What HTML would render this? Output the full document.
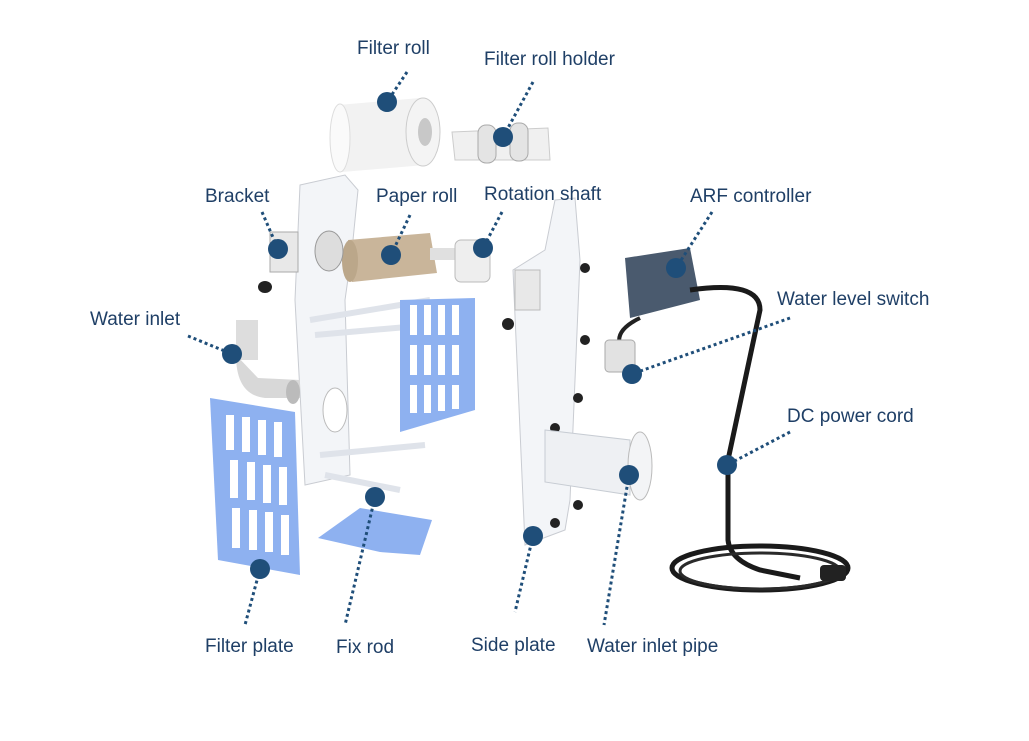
<!DOCTYPE html>
<html><head><meta charset="utf-8"><style>
html,body{margin:0;padding:0;background:#fff;}
svg{display:block;}
text{font-family:"Liberation Sans",sans-serif;font-size:19px;fill:#1f3f66;}
</style></head><body>
<svg width="1029" height="741" viewBox="0 0 1029 741" xmlns="http://www.w3.org/2000/svg">
<!-- filter roll -->
<path d="M338 105 L420 98 L425 165 L342 172 Z" fill="#f2f2f2"/>
<ellipse cx="340" cy="138" rx="10" ry="34" fill="#fafafa" stroke="#ddd"/>
<ellipse cx="423" cy="132" rx="17" ry="34" fill="#f4f4f4" stroke="#ccc"/>
<ellipse cx="425" cy="132" rx="7" ry="14" fill="#c8c8c8"/>
<!-- filter roll holder -->
<path d="M452 132 L548 128 L550 160 L455 160 Z" fill="#f0f0f0" stroke="#ccc"/>
<rect x="478" y="125" width="18" height="38" rx="8" fill="#e4e4e4" stroke="#aaa"/>
<rect x="510" y="123" width="18" height="38" rx="8" fill="#e4e4e4" stroke="#aaa"/>
<!-- left clear plate -->
<path d="M300 185 L345 175 L358 190 L352 250 L345 300 L350 475 L305 485 L295 300 Z" fill="#f3f5f8" stroke="#c9ccd2"/>
<line x1="310" y1="320" x2="430" y2="300" stroke="#dfe3ea" stroke-width="6"/>
<line x1="315" y1="335" x2="430" y2="325" stroke="#dfe3ea" stroke-width="6"/>
<line x1="320" y1="455" x2="425" y2="445" stroke="#dfe3ea" stroke-width="6"/>
<line x1="325" y1="475" x2="400" y2="490" stroke="#dfe3ea" stroke-width="6"/>
<ellipse cx="335" cy="410" rx="12" ry="22" fill="#fff" stroke="#bbb"/>
<!-- bracket -->
<rect x="270" y="232" width="28" height="40" fill="#e8e8e8" stroke="#aaa"/>
<ellipse cx="265" cy="287" rx="7" ry="6" fill="#222"/>
<!-- paper roll -->
<path d="M348 240 L430 233 L437 273 L352 282 Z" fill="#c9b59a"/>
<ellipse cx="350" cy="261" rx="8" ry="21" fill="#bba78a"/>
<ellipse cx="329" cy="251" rx="14" ry="20" fill="#ddd" stroke="#999"/>
<rect x="430" y="248" width="40" height="12" fill="#e0e0e0"/>
<rect x="455" y="240" width="35" height="42" rx="6" fill="#eee" stroke="#bbb"/>
<!-- right blue plate -->
<path d="M400 300 L475 298 L475 410 L400 432 Z" fill="#8eb1f0"/>
<g fill="#fff">
<rect x="410" y="305" width="7" height="30"/><rect x="424" y="305" width="7" height="30"/><rect x="438" y="305" width="7" height="30"/><rect x="452" y="305" width="7" height="30"/>
<rect x="410" y="345" width="7" height="30"/><rect x="424" y="345" width="7" height="30"/><rect x="438" y="345" width="7" height="30"/><rect x="452" y="345" width="7" height="30"/>
<rect x="410" y="385" width="7" height="28"/><rect x="424" y="385" width="7" height="28"/><rect x="438" y="385" width="7" height="26"/><rect x="452" y="385" width="7" height="24"/>
</g>
<!-- water inlet elbow -->
<rect x="236" y="320" width="22" height="40" fill="#ddd"/>
<path d="M236 355 Q236 395 265 398 L300 398 L300 380 L258 378 Z" fill="#d8d8d8"/>
<ellipse cx="293" cy="392" rx="7" ry="12" fill="#bbb"/>
<!-- left blue filter plate -->
<path d="M210 398 L295 412 L300 575 L218 560 Z" fill="#8eb1f0"/>
<g fill="#fff">
<rect x="226" y="415" width="8" height="35"/><rect x="242" y="417" width="8" height="35"/><rect x="258" y="420" width="8" height="35"/><rect x="274" y="422" width="8" height="35"/>
<rect x="230" y="460" width="8" height="38"/><rect x="247" y="462" width="8" height="38"/><rect x="263" y="465" width="8" height="38"/><rect x="279" y="467" width="8" height="38"/>
<rect x="232" y="508" width="8" height="40"/><rect x="249" y="510" width="8" height="40"/><rect x="265" y="512" width="8" height="40"/><rect x="281" y="515" width="8" height="40"/>
</g>
<!-- bottom blue plate -->
<path d="M318 538 L360 508 L432 520 L420 555 L380 552 Z" fill="#8eb1f0"/>
<!-- side plate -->
<path d="M555 200 L575 198 L580 260 L570 500 L565 530 L525 545 L520 430 L513 270 L545 250 Z" fill="#f3f5f8" stroke="#c9ccd2"/>
<rect x="515" y="270" width="25" height="40" fill="#e8e8e8" stroke="#bbb"/>
<g fill="#222"><circle cx="585" cy="268" r="5"/><circle cx="508" cy="324" r="6"/><circle cx="585" cy="340" r="5"/><circle cx="578" cy="398" r="5"/><circle cx="555" cy="428" r="5"/><circle cx="578" cy="505" r="5"/><circle cx="555" cy="523" r="5"/></g>
<!-- water inlet pipe -->
<path d="M545 430 L630 440 L630 495 L545 482 Z" fill="#eef0f3" stroke="#c7ccd3"/>
<ellipse cx="640" cy="466" rx="12" ry="34" fill="#f3f4f6" stroke="#bbb"/>
<!-- ARF controller -->
<path d="M625 258 L690 248 L700 300 L630 318 Z" fill="#4a5a6e"/>
<path d="M690 290 Q760 280 760 310 L728 460 L728 540 Q730 560 760 570 L800 578" fill="none" stroke="#1a1a1a" stroke-width="5"/>
<path d="M640 318 Q615 330 620 345" fill="none" stroke="#222" stroke-width="4"/>
<rect x="605" y="340" width="30" height="32" rx="4" fill="#e2e2e2" stroke="#aaa"/>
<!-- coil -->
<ellipse cx="760" cy="568" rx="88" ry="22" fill="none" stroke="#1a1a1a" stroke-width="5"/>
<ellipse cx="760" cy="571" rx="80" ry="18" fill="none" stroke="#2a2a2a" stroke-width="3"/>
<rect x="820" y="565" width="26" height="16" rx="4" fill="#222"/>
<!-- leader lines -->
<g stroke="#1f4e79" stroke-width="3" stroke-dasharray="3 3" fill="none">
<line x1="407" y1="72" x2="387" y2="102"/>
<line x1="533" y1="82" x2="503" y2="137"/>
<line x1="262" y1="212" x2="278" y2="249"/>
<line x1="410" y1="215" x2="391" y2="255"/>
<line x1="502" y1="212" x2="483" y2="248"/>
<line x1="712" y1="212" x2="676" y2="268"/>
<line x1="790" y1="318" x2="632" y2="374"/>
<line x1="188" y1="336" x2="232" y2="354"/>
<line x1="790" y1="432" x2="727" y2="465"/>
<line x1="260" y1="569" x2="245" y2="625"/>
<line x1="375" y1="497" x2="345" y2="625"/>
<line x1="533" y1="536" x2="515" y2="612"/>
<line x1="629" y1="475" x2="604" y2="625"/>
</g>
<g fill="#1f4e79">
<circle cx="387" cy="102" r="10"/><circle cx="503" cy="137" r="10"/><circle cx="278" cy="249" r="10"/>
<circle cx="391" cy="255" r="10"/><circle cx="483" cy="248" r="10"/><circle cx="676" cy="268" r="10"/>
<circle cx="632" cy="374" r="10"/><circle cx="232" cy="354" r="10"/><circle cx="727" cy="465" r="10"/>
<circle cx="260" cy="569" r="10"/><circle cx="375" cy="497" r="10"/><circle cx="533" cy="536" r="10"/>
<circle cx="629" cy="475" r="10"/>
</g>
<text x="357" y="54">Filter roll</text>
<text x="484" y="65">Filter roll holder</text>
<text x="205" y="202">Bracket</text>
<text x="376" y="202">Paper roll</text>
<text x="484" y="200">Rotation shaft</text>
<text x="690" y="202">ARF controller</text>
<text x="777" y="305">Water level switch</text>
<text x="90" y="325">Water inlet</text>
<text x="787" y="422">DC power cord</text>
<text x="205" y="652">Filter plate</text>
<text x="336" y="653">Fix rod</text>
<text x="471" y="651">Side plate</text>
<text x="587" y="652">Water inlet pipe</text>
</svg>
</body></html>
